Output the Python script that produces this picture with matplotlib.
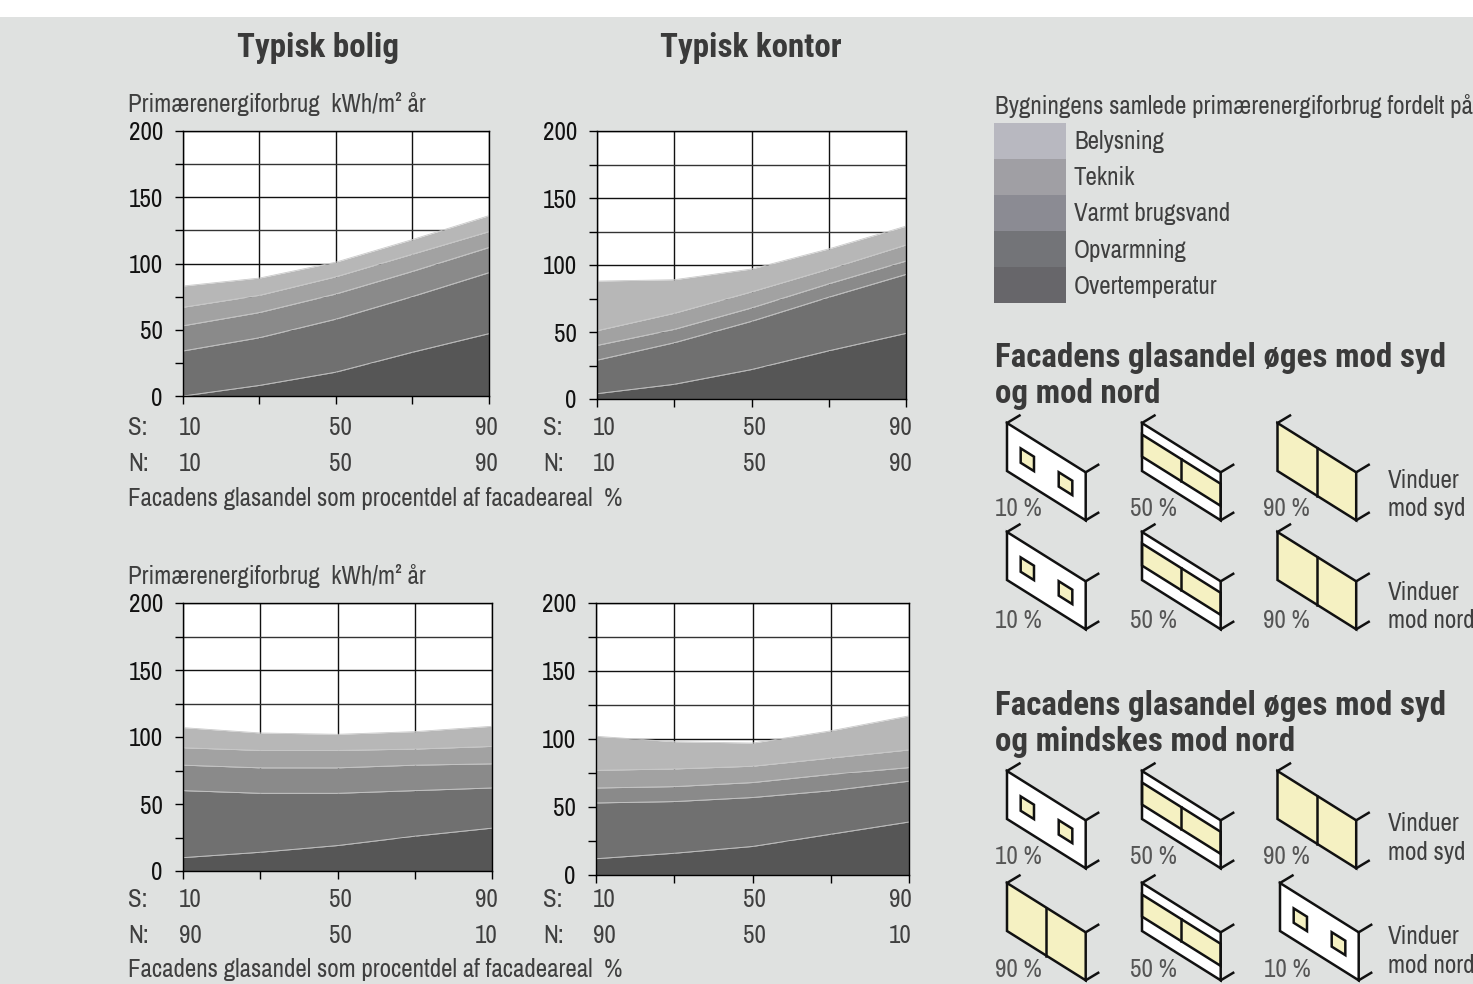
import numpy as np
import matplotlib
matplotlib.use("Agg")
import matplotlib.pyplot as plt
from matplotlib.patches import Polygon, Rectangle

BODY_FONT = ["Archivo Narrow", "Liberation Sans", "DejaVu Sans"]
HEAD_FONT = ["Roboto Condensed", "Liberation Sans", "DejaVu Sans"]
plt.rcParams["font.family"] = BODY_FONT

W, H = 1473, 984
BG = "#dfe1e0"
GLASS = "#f5f1c2"

# glasandel paa x-aksen
x_vals = [10, 30, 50, 70, 90]

# kumulerede kurver: overtemperatur, opvarmning, varmt brugsvand, teknik, belysning
bolig_1 = [[0, 8, 18, 33, 47], [34, 44, 58, 75, 93], [53, 63, 77, 94, 112],
           [67, 76, 90, 107, 124], [83, 89, 101, 118, 136]]
kontor_1 = [[4, 11, 22, 36, 49], [29, 42, 58, 76, 93], [40, 52, 68, 86, 103],
            [51, 64, 80, 97, 115], [88, 89, 97, 112, 129]]
bolig_2 = [[10, 14, 19, 26, 32], [60, 58, 58, 60, 62], [79, 77, 77, 79, 80],
           [92, 90, 90, 91, 93], [107, 103, 102, 104, 108]]
kontor_2 = [[12, 16, 21, 30, 39], [53, 54, 57, 62, 69], [64, 65, 68, 74, 79],
            [77, 78, 80, 86, 92], [102, 98, 97, 106, 117]]

area_colors = ["#565656", "#707070", "#8a8a8a", "#a2a2a2", "#b7b7b7"]

legend_labels = ["Belysning", "Teknik", "Varmt brugsvand", "Opvarmning", "Overtemperatur"]
legend_colors = ["#b8b8c0", "#a09fa4", "#8b8b93", "#737478", "#67666a"]

s_labels = ["10", "50", "90"]
n_labels_1 = ["10", "50", "90"]
n_labels_2 = ["90", "50", "10"]

fig = plt.figure(figsize=(W / 100, H / 100), dpi=100, facecolor="white")

# overlay i pixelkoordinater til tekst og facadeikoner
ov = fig.add_axes([0, 0, 1, 1], zorder=5)
ov.set_xlim(0, W)
ov.set_ylim(H, 0)
ov.axis("off")
ov.patch.set_alpha(0)

bg = fig.add_axes([0, 0, 1, 1], zorder=0)
bg.set_xlim(0, W)
bg.set_ylim(H, 0)
bg.axis("off")
bg.add_patch(Rectangle((0, 17), W, H - 17, color=BG, lw=0))


def txt(x, y, s, size=18, color="#3f3f3f", **kw):
    ov.text(x, y + 1.5, s, fontsize=size, color=color, va="center", clip_on=True, **kw)


def head(x, y, s, **kw):
    txt(x, y, s, size=23.8, color="#3a3a3a", family=HEAD_FONT, weight="bold", **kw)


def panel(box, curves):
    left, top, right, bottom = box
    ax = fig.add_axes([left / W, 1 - bottom / H, (right - left) / W, (bottom - top) / H], zorder=2)
    ax.set_facecolor("white")
    ax.set_xlim(10, 90)
    ax.set_ylim(0, 200)
    ax.set_xticks(x_vals)
    ax.set_xticklabels([])
    ax.set_yticks([0, 50, 100, 150, 200])
    ax.set_yticks([25, 75, 125, 175], minor=True)
    ax.tick_params(axis="both", which="both", length=6, width=1, color="black")
    ax.tick_params(axis="y", which="major", labelsize=18, labelcolor="#111111", pad=8.5)
    ax.grid(True, which="major", color="#111111", lw=1)
    ax.grid(True, which="minor", axis="y", color="#333333", lw=1)
    ax.set_axisbelow(True)
    lower = [0] * len(x_vals)
    for c, col in zip(curves, area_colors):
        ax.fill_between(x_vals, lower, c, color=col, lw=0, zorder=3)
        ax.plot(x_vals, c, color="#c9c9c9", lw=0.6, zorder=4)
        lower = c
    for s in ax.spines.values():
        s.set_color("black")
        s.set_linewidth(1)
        s.set_zorder(6)
    return ax


panel((183, 131, 488.5, 396), bolig_1)
panel((597, 131, 906, 399), kontor_1)
panel((183, 603, 492, 871), bolig_2)
panel((596, 603, 909, 875), kontor_2)

# titler
head(318, 46.5, "Typisk bolig", ha="center")
head(751, 46.5, "Typisk kontor", ha="center")

for y_top, y_s, y_n, y_foot, n_labels in [(103, 426, 462, 497, n_labels_1),
                                           (575, 898, 934, 968, n_labels_2)]:
    txt(128, y_top, "Primærenergiforbrug  kWh/m² år")
    txt(128, y_s, "S:")
    txt(128, y_n, "N:")
    txt(543, y_s, "S:")
    txt(543, y_n, "N:")
    for x0 in (190, 604):
        for dx, s, n in zip((0, 150, 296), s_labels, n_labels):
            txt(x0 + dx, y_s, s, ha="center")
            txt(x0 + dx, y_n, n, ha="center")
    txt(128, y_foot, "Facadens glasandel som procentdel af facadeareal  %")

# legende
txt(995, 104, "Bygningens samlede primærenergiforbrug fordelt på:")
for i, (lab, col) in enumerate(zip(legend_labels, legend_colors)):
    ov.add_patch(Rectangle((994, 123 + i * 36), 72, 36, color=col, lw=0))
    txt(1074, 140 + i * 36.2, lab)

# overskrifter
for y, line in [(356.5, "Facadens glasandel øges mod syd"), (392.5, "og mod nord"),
                (704.5, "Facadens glasandel øges mod syd"), (740.5, "og mindskes mod nord")]:
    head(995, y, line)


# facadeikon: kode 10, 50 eller 90 % glas
def icon(x0, y0, pct):
    iw, sl, ih = 78.7, 49.3, 48

    def pt(u, v):
        return (x0 + u * iw, y0 + u * sl + v * ih)

    def quad(u0, u1, v0, v1, **kw):
        ov.add_patch(Polygon([pt(u0, v0), pt(u1, v0), pt(u1, v1), pt(u0, v1)], closed=True, **kw))

    lw = 1.8
    if pct == 90:
        quad(0, 1, 0, 1, fc=GLASS, ec="none")
        ov.plot(*zip(pt(.5, 0), pt(.5, 1)), color="#111111", lw=lw)
    else:
        quad(0, 1, 0, 1, fc="white", ec="none")
    if pct == 50:
        quad(0, 1, .24, .70, fc=GLASS, ec="#111111", lw=lw)
        ov.plot(*zip(pt(.49, .24), pt(.49, .70)), color="#111111", lw=lw)
    if pct == 10:
        quad(.174, .343, .35, .65, fc=GLASS, ec="#111111", lw=lw)
        quad(.657, .83, .35, .65, fc=GLASS, ec="#111111", lw=lw)
    quad(0, 1, 0, 1, fc="none", ec="#111111", lw=lw)
    for u, v in [(0, 0), (1, 0), (1, 1)]:
        px, py = pt(u, v)
        ov.plot([px, px + 12.5], [py, py - 7.5], color="#111111", lw=lw)


rows = [
    (423, 507, [(1007, 10), (1142, 50), (1277.5, 90)], [995, 1129.5, 1263], ["Vinduer", "mod syd"], (479, 507)),
    (532, 619, [(1007, 10), (1142, 50), (1277.5, 90)], [995, 1129.5, 1263], ["Vinduer", "mod nord"], (591, 619)),
    (771, 855, [(1007, 10), (1142, 50), (1277.5, 90)], [995, 1129.5, 1263], ["Vinduer", "mod syd"], (822, 851)),
    (883, 968, [(1007, 90), (1142, 50), (1280, 10)], [995, 1129.5, 1264], ["Vinduer", "mod nord"], (935, 964)),
]
for y0, y_lab, icons, lab_x, side, side_y in rows:
    for (x0, pct), lx in zip(icons, lab_x):
        icon(x0, y0, pct)
        txt(lx, y_lab, f"{pct} %", color="#555555")
    txt(1388, side_y[0], side[0])
    txt(1388, side_y[1], side[1])

fig.savefig("out.png", dpi=100, facecolor=fig.get_facecolor())
